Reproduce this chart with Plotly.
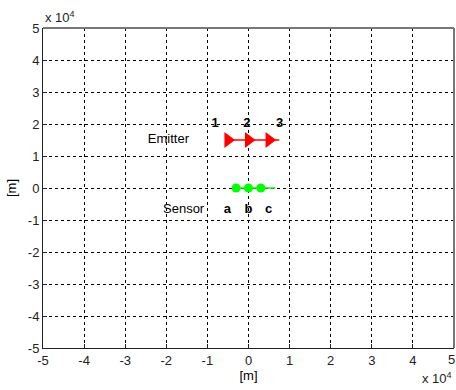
import plotly.graph_objects as go

# data (in metres)
emitter_x = [-5000, 0, 5000]
emitter_y = [15000, 15000, 15000]
emitter_line_x = [-5000, 7500]
emitter_line_y = [15000, 15000]

sensor_x = [-3000, 0, 3000]
sensor_y = [0, 0, 0]
sensor_line_x = [-3000, 6500]
sensor_line_y = [0, 0]

emitter_label_x = [-9000, -1300, 6700]
emitter_label_y = [20000, 20000, 20000]
emitter_labels = ["1", "2", "3"]

sensor_label_x = [-6000, -1000, 4000]
sensor_label_y = [-6800, -6800, -6800]
sensor_labels = ["a", "b", "c"]

name_x = [-24500, -20800]
name_y = [15000, -6800]
names = ["Emitter", "Sensor"]

tick_vals = [-50000, -40000, -30000, -20000, -10000, 0, 10000, 20000, 30000, 40000, 50000]
tick_text = ["-5", "-4", "-3", "-2", "-1", "0", "1", "2", "3", "4", "5"]

FONT = "Liberation Sans, Arial, sans-serif"
FS = 13

fig = go.Figure()
fig.add_trace(go.Scatter(x=emitter_line_x, y=emitter_line_y, mode="lines",
                         line=dict(color="#FF0000", width=1.5), hoverinfo="skip"))
fig.add_trace(go.Scatter(x=emitter_x, y=emitter_y, mode="markers",
                         marker=dict(symbol="triangle-right", size=14, color="#FF0000",
                                     line=dict(width=0))))
fig.add_trace(go.Scatter(x=sensor_line_x, y=sensor_line_y, mode="lines",
                         line=dict(color="#00FF00", width=1.5), hoverinfo="skip"))
fig.add_trace(go.Scatter(x=sensor_x, y=sensor_y, mode="markers",
                         marker=dict(symbol="circle", size=9, color="#00FF00",
                                     line=dict(width=0))))
fig.add_trace(go.Scatter(x=emitter_label_x, y=emitter_label_y, mode="text",
                         text=["<b>%s</b>" % t for t in emitter_labels],
                         textposition="middle right",
                         textfont=dict(family=FONT, size=FS, color="black")))
fig.add_trace(go.Scatter(x=sensor_label_x, y=sensor_label_y, mode="text",
                         text=["<b>%s</b>" % t for t in sensor_labels],
                         textposition="middle right",
                         textfont=dict(family=FONT, size=FS, color="black")))
fig.add_trace(go.Scatter(x=name_x, y=name_y, mode="text", text=names,
                         textposition="middle right",
                         textfont=dict(family=FONT, size=FS, color="black")))

axis_common = dict(
    range=[-50000, 50000], tickvals=tick_vals, ticktext=tick_text,
    showgrid=True, gridcolor="black", gridwidth=1, griddash="3px,3px",
    zeroline=False, showline=True, linecolor="#222", linewidth=1,
    ticks="inside", ticklen=4, tickcolor="#222",
    tickfont=dict(family=FONT, size=FS, color="#222"),
    mirror=False, fixedrange=True,
)

fig.update_layout(
    width=456, height=390,
    margin=dict(l=43, r=2, t=28, b=42),
    paper_bgcolor="white", plot_bgcolor="white",
    showlegend=False,
    font=dict(family=FONT, size=FS, color="black"),
    xaxis=dict(**axis_common, title=dict(text="[m]", standoff=0,
                                         font=dict(family=FONT, size=FS))),
    yaxis=dict(**axis_common, title=dict(text="[m]", standoff=8,
                                         font=dict(family=FONT, size=FS))),
    shapes=[
        dict(type="line", xref="paper", yref="paper", x0=0, x1=1, y0=1, y1=1,
             line=dict(color="#777", width=2)),
        dict(type="line", xref="paper", yref="paper", x0=1, x1=1, y0=0, y1=1,
             line=dict(color="#777", width=2)),
    ],
    annotations=[
        dict(text="x 10<sup>4</sup>", xref="paper", yref="paper", x=0, y=1,
             xanchor="left", yanchor="bottom", showarrow=False, yshift=1,
             font=dict(family=FONT, size=FS, color="#222")),
        dict(text="x 10<sup>4</sup>", xref="paper", yref="paper", x=1, y=0,
             xanchor="right", yanchor="top", showarrow=False, yshift=-20,
             font=dict(family=FONT, size=FS, color="#222")),
        dict(text=tick_text[-1], xref="paper", yref="paper", x=1, y=0,
             xanchor="right", yanchor="top", showarrow=False, xshift=3, yshift=-2,
             font=dict(family=FONT, size=FS, color="#222")),
    ],
)

fig.write_html("out.html")
